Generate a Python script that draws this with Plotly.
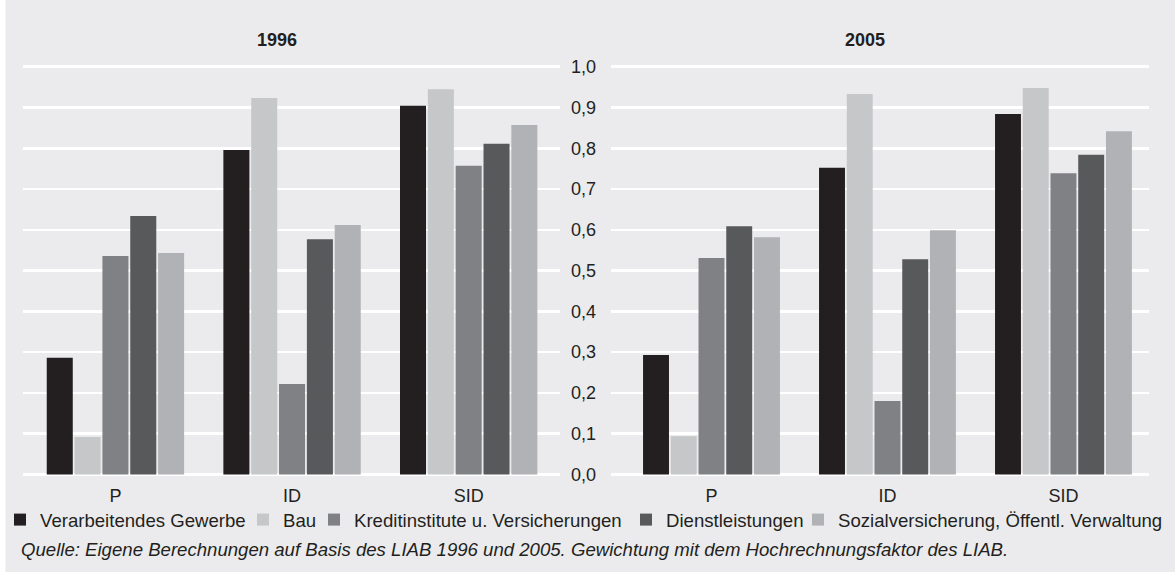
import plotly.graph_objects as go

# ---------------- data ----------------
categories = ["P", "ID", "SID"]
series_names = [
    "Verarbeitendes Gewerbe",
    "Bau",
    "Kreditinstitute u. Versicherungen",
    "Dienstleistungen",
    "Sozialversicherung, Öffentl. Verwaltung",
]
values_1996_verarbeitend = [0.286, 0.796, 0.904]
values_1996_bau = [0.092, 0.923, 0.945]
values_1996_kredit = [0.536, 0.222, 0.757]
values_1996_dienst = [0.634, 0.577, 0.811]
values_1996_sozial = [0.543, 0.612, 0.857]

values_2005_verarbeitend = [0.293, 0.752, 0.884]
values_2005_bau = [0.094, 0.933, 0.948]
values_2005_kredit = [0.531, 0.180, 0.739]
values_2005_dienst = [0.609, 0.528, 0.784]
values_2005_sozial = [0.582, 0.599, 0.842]

panel_titles = ["1996", "2005"]
y_ticks = [0.0, 0.1, 0.2, 0.3, 0.4, 0.5, 0.6, 0.7, 0.8, 0.9, 1.0]
caption = ("Quelle: Eigene Berechnungen auf Basis des LIAB 1996 und 2005. "
           "Gewichtung mit dem Hochrechnungsfaktor des LIAB.")

# ---------------- style ----------------
colors = ["#231F20", "#C6C7C9", "#808184", "#58595B", "#B1B2B5"]
legend_widths = [198, 26, 267, 127, None]
BG = "#EBEBED"
FONT = "Liberation Sans, Arial, Helvetica, sans-serif"
TXT = "#231F20"
FS = 18.6
W, H = 1175, 572

def px_x(x):
    return x / W

def px_y(y):
    return 1 - y / H

data_1996 = [values_1996_verarbeitend, values_1996_bau, values_1996_kredit,
             values_1996_dienst, values_1996_sozial]
data_2005 = [values_2005_verarbeitend, values_2005_bau, values_2005_kredit,
             values_2005_dienst, values_2005_sozial]

fig = go.Figure()
for i, name in enumerate(series_names):
    kw = dict(legendwidth=legend_widths[i]) if legend_widths[i] else {}
    fig.add_trace(go.Bar(
        x=categories, y=data_1996[i], name=name,
        marker=dict(color=colors[i], line=dict(width=0)),
        xaxis="x", yaxis="y", showlegend=True, legendgroup=name,
        hoverinfo="skip", **kw))
for i, name in enumerate(series_names):
    fig.add_trace(go.Bar(
        x=categories, y=data_2005[i], name=name,
        marker=dict(color=colors[i], line=dict(width=0)),
        xaxis="x2", yaxis="y2", showlegend=False, legendgroup=name,
        hoverinfo="skip"))

y_dom = [px_y(475.7), px_y(65.5)]
yrange = [-0.003, 1.003]

common_y = dict(range=yrange, domain=y_dom, tickvals=y_ticks,
                showgrid=True, gridcolor="white", gridwidth=2.5,
                zeroline=True, zerolinecolor="white", zerolinewidth=3,
                showline=False, ticks="", automargin=False, fixedrange=True)
common_x = dict(type="category", showgrid=False, zeroline=False,
                showline=False, ticks="", automargin=False,
                ticklabelstandoff=7,
                tickfont=dict(size=18, color=TXT, family=FONT))

fig.update_layout(
    width=W, height=H, autosize=False,
    margin=dict(l=0, r=0, t=0, b=0, pad=0),
    paper_bgcolor=BG, plot_bgcolor=BG,
    font=dict(family=FONT, color=TXT, size=FS),
    separators=",.",
    barmode="group", bargap=0.212, bargroupgap=0.065,
    xaxis=dict(domain=[px_x(22.7), px_x(560)], range=[-0.525, 2.517],
               anchor="y", **common_x),
    xaxis2=dict(domain=[px_x(611), px_x(1149)], range=[-0.571, 2.486],
                anchor="y2", **common_x),
    yaxis=dict(anchor="x", side="right", showticklabels=True,
               tickformat=".1f", ticklabelstandoff=10,
               tickfont=dict(size=18, color=TXT, family=FONT), **common_y),
    yaxis2=dict(anchor="x2", showticklabels=False, **common_y),
    legend=dict(orientation="h", x=0, xanchor="left",
                y=px_y(520), yanchor="middle",
                bgcolor="rgba(0,0,0,0)", borderwidth=0,
                font=dict(size=FS, color=TXT, family=FONT),
                entrywidthmode="pixels", traceorder="normal",
                itemclick=False, itemdoubleclick=False),
    shapes=[dict(type="rect", xref="paper", yref="paper",
                 x0=0, x1=px_x(5.5), y0=0, y1=1,
                 fillcolor="white", line=dict(width=0), layer="below")],
    annotations=[
        dict(text="<b>%s</b>" % panel_titles[0], xref="paper", yref="paper",
             x=px_x(277), y=px_y(39.5), xanchor="center", yanchor="middle",
             showarrow=False, font=dict(size=18, color=TXT, family=FONT)),
        dict(text="<b>%s</b>" % panel_titles[1], xref="paper", yref="paper",
             x=px_x(864.5), y=px_y(39.5), xanchor="center", yanchor="middle",
             showarrow=False, font=dict(size=18, color=TXT, family=FONT)),
        dict(text="<i>%s</i>" % caption, xref="paper", yref="paper",
             x=px_x(19), y=px_y(549), xanchor="left", yanchor="middle",
             showarrow=False, font=dict(size=FS, color=TXT, family=FONT)),
    ],
)

fig.write_html(
    "out.html",
    config={"displayModeBar": False, "staticPlot": True},
    post_script="document.body.style.margin='0px';"
                "document.body.style.overflow='hidden';",
)
